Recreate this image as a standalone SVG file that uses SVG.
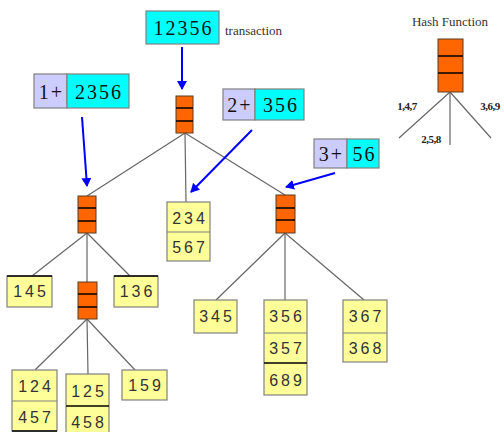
<svg xmlns="http://www.w3.org/2000/svg" width="504" height="432" viewBox="0 0 504 432">
<defs>
<marker id="ah" markerWidth="10" markerHeight="10" refX="8" refY="5" orient="auto" markerUnits="userSpaceOnUse">
<path d="M0,0 L9,5 L0,10 Z" fill="#0000FF"/>
</marker>
<style>
.hash{fill:#FF6600;stroke:#5a3a20;stroke-width:1}
.div{stroke:#000;stroke-width:1.5}
.leaf{fill:#FFFF99;stroke:#808080;stroke-width:1.2}
.lav{fill:#CCCCFF;stroke:#808080;stroke-width:1.2}
.cy{fill:#00FFFF;stroke:#808080;stroke-width:1.2}
.num{font-family:"Liberation Sans",Arial,sans-serif;font-size:16px;fill:#333;text-anchor:middle;letter-spacing:3px}
.big{font-family:"Liberation Serif","Times New Roman",serif;font-size:20px;fill:#111;text-anchor:middle;letter-spacing:2px}
.lbl{font-family:"Liberation Serif","Times New Roman",serif;font-size:13px;fill:#333}
.small{font-family:"Liberation Serif","Times New Roman",serif;font-size:11px;font-weight:bold;fill:#222;text-anchor:middle;letter-spacing:-0.5px}
.conn{stroke:#666;stroke-width:1.2;fill:none}
.arr{stroke:#0000FF;stroke-width:2;fill:none;marker-end:url(#ah)}
</style>
</defs>
<rect width="504" height="432" fill="#fff"/>

<g id="connectors">
<line class="conn" x1="185" y1="133" x2="87" y2="196"/>
<line class="conn" x1="185" y1="133" x2="186" y2="202"/>
<line class="conn" x1="185" y1="133" x2="285" y2="195"/>
<line class="conn" x1="87" y1="233" x2="32" y2="276"/>
<line class="conn" x1="87" y1="233" x2="87" y2="282"/>
<line class="conn" x1="87" y1="233" x2="130" y2="276"/>
<line class="conn" x1="87" y1="319" x2="35" y2="370"/>
<line class="conn" x1="87" y1="319" x2="88" y2="374"/>
<line class="conn" x1="87" y1="319" x2="135" y2="370"/>
<line class="conn" x1="285" y1="233" x2="216" y2="300"/>
<line class="conn" x1="285" y1="233" x2="285" y2="300"/>
<line class="conn" x1="285" y1="233" x2="364" y2="300"/>
<line class="conn" x1="450" y1="92" x2="399" y2="138"/>
<line class="conn" x1="450" y1="92" x2="450" y2="145"/>
<line class="conn" x1="450" y1="92" x2="491" y2="138"/>
<line class="arr" x1="182" y1="47" x2="182" y2="89"/>
<line class="arr" x1="82" y1="117" x2="87" y2="186"/>
<line class="arr" x1="252" y1="130" x2="191" y2="192"/>
<line class="arr" x1="335" y1="173" x2="286" y2="187"/>
</g>

<g id="transaction">
<rect class="cy" x="146" y="11" width="73" height="33"/>
<text class="big" x="183.5" y="35">12356</text>
<text class="lbl" x="225" y="35">transaction</text>
</g>

<g id="sub1">
<rect class="lav" x="34" y="74" width="33" height="34"/>
<rect class="cy" x="67" y="74" width="62" height="34"/>
<text class="big" x="51.5" y="99">1+</text>
<text class="big" x="99" y="99">2356</text>
</g>

<g id="sub2">
<rect class="lav" x="223" y="89" width="32" height="31"/>
<rect class="cy" x="255" y="89" width="49" height="31"/>
<text class="big" x="240" y="112">2+</text>
<text class="big" x="281" y="112">356</text>
</g>

<g id="sub3">
<rect class="lav" x="314" y="139" width="33" height="29"/>
<rect class="cy" x="347" y="139" width="32" height="29"/>
<text class="big" x="331.5" y="161">3+</text>
<text class="big" x="364.5" y="161">56</text>
</g>

<g id="hash-root">
<rect class="hash" x="176" y="96" width="17" height="37"/>
<line class="div" x1="176" y1="108" x2="193" y2="108"/>
<line class="div" x1="176" y1="121" x2="193" y2="121"/>
</g>
<g id="hash-left">
<rect class="hash" x="78" y="196" width="18" height="37"/>
<line class="div" x1="78" y1="208" x2="96" y2="208"/>
<line class="div" x1="78" y1="221" x2="96" y2="221"/>
</g>
<g id="hash-right">
<rect class="hash" x="276" y="195" width="19" height="38"/>
<line class="div" x1="276" y1="208" x2="295" y2="208"/>
<line class="div" x1="276" y1="220" x2="295" y2="220"/>
</g>
<g id="hash-mid">
<rect class="hash" x="78" y="282" width="19" height="37"/>
<line class="div" x1="78" y1="294" x2="97" y2="294"/>
<line class="div" x1="78" y1="307" x2="97" y2="307"/>
</g>

<g id="hash-function">
<text class="lbl" x="450" y="26" text-anchor="middle">Hash Function</text>
<rect class="hash" x="438" y="39" width="25" height="53"/>
<line class="div" x1="438" y1="56" x2="463" y2="56"/>
<line class="div" x1="438" y1="73" x2="463" y2="73"/>
<text class="small" x="407" y="110">1,4,7</text>
<text class="small" x="431" y="143">2,5,8</text>
<text class="small" x="490" y="110">3,6,9</text>
</g>

<g id="leaf-145">
<rect class="leaf" x="7" y="276" width="45" height="31"/>
<line class="div" x1="7" y1="276" x2="52" y2="276"/>
<text class="num" x="31" y="297">145</text>
</g>
<g id="leaf-136">
<rect class="leaf" x="114" y="276" width="44" height="31"/>
<line class="div" x1="114" y1="276" x2="158" y2="276"/>
<text class="num" x="137.5" y="297">136</text>
</g>
<g id="leaf-234">
<rect class="leaf" x="167" y="202" width="43" height="59"/>
<line class="leaf" x1="167" y1="232" x2="210" y2="232"/>
<text class="num" x="190" y="224">234</text>
<text class="num" x="190" y="253">567</text>
</g>
<g id="leaf-345">
<rect class="leaf" x="194" y="300" width="43" height="33"/>
<text class="num" x="217" y="322">345</text>
</g>
<g id="leaf-356">
<rect class="leaf" x="264" y="300" width="43" height="95"/>
<line class="leaf" x1="264" y1="333" x2="307" y2="333"/>
<line class="div" x1="264" y1="363" x2="307" y2="363"/>
<text class="num" x="287" y="322">356</text>
<text class="num" x="287" y="354">357</text>
<text class="num" x="287" y="386">689</text>
</g>
<g id="leaf-367">
<rect class="leaf" x="343" y="300" width="44" height="62"/>
<line class="leaf" x1="343" y1="333" x2="387" y2="333"/>
<text class="num" x="366.5" y="322">367</text>
<text class="num" x="366.5" y="354">368</text>
</g>
<g id="leaf-124">
<rect class="leaf" x="12" y="370" width="45" height="61"/>
<line class="leaf" x1="12" y1="401" x2="57" y2="401"/>
<line class="div" x1="12" y1="431" x2="57" y2="431"/>
<text class="num" x="36" y="392">124</text>
<text class="num" x="36" y="423">457</text>
</g>
<g id="leaf-125">
<rect class="leaf" x="66" y="374" width="43" height="62"/>
<line class="div" x1="66" y1="406" x2="109" y2="406"/>
<text class="num" x="89" y="397">125</text>
<text class="num" x="89" y="428">458</text>
</g>
<g id="leaf-159">
<rect class="leaf" x="122" y="370" width="45" height="30"/>
<text class="num" x="146" y="391">159</text>
</g>
</svg>
